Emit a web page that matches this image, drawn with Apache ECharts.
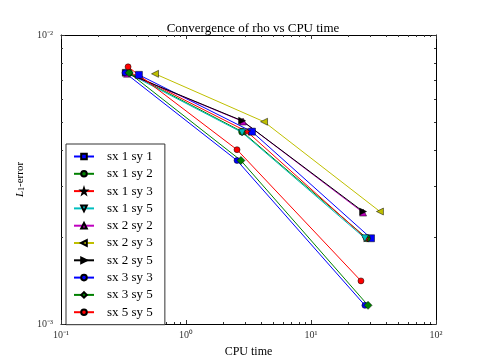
<!DOCTYPE html>
<html>
<head>
<meta charset="utf-8">
<script src="https://cdn.jsdelivr.net/npm/echarts@6/dist/echarts.min.js"></script>
<style>
  html, body { margin: 0; padding: 0; background: #fff; }
  #chart { width: 485px; height: 363px; }
</style>
</head>
<body>
<div id="chart"></div>
<script>
// points are [cpu time, L1 error]
const sx1sy1 = [[0.42, 0.00728], [3.37, 0.00463], [30.2, 0.00198]];
const sx1sy2 = [[0.35, 0.0074], [2.81, 0.00463], [28.0, 0.00198]];
const sx1sy3 = [[0.34, 0.0075], [3.08, 0.00463], [27.5, 0.00198]];
const sx1sy5 = [[0.337, 0.0074], [2.81, 0.0046], [27.0, 0.00198]];
const sx2sy2 = [[0.337, 0.00735], [2.86, 0.00502], [26.1, 0.00243]];
const sx2sy3 = [[0.565, 0.00734], [4.21, 0.00501], [35.6, 0.00245]];
const sx2sy5 = [[0.33, 0.0074], [2.81, 0.00505], [26.1, 0.00245]];
const sx3sy3 = [[0.325, 0.0074], [2.56, 0.00368], [27.0, 0.00116]];
const sx3sy5 = [[0.35, 0.0074], [2.75, 0.00368], [28.6, 0.00116]];
const sx5sy5 = [[0.344, 0.00776], [2.56, 0.00401], [25.1, 0.00141]];

const xMajor = [0.1, 1, 10, 100];
const xMinor = [0.2, 0.3, 0.4, 0.5, 0.6, 0.7, 0.8, 0.9,
  2, 3, 4, 5, 6, 7, 8, 9, 20, 30, 40, 50, 60, 70, 80, 90];
const yMajor = [0.001, 0.01];
const yMinor = [0.002, 0.003, 0.004, 0.005, 0.006, 0.007, 0.008, 0.009];

const font = "Liberation Serif";
const star = "path://M0,-10L2.35,-3.24L9.51,-3.09L3.8,1.24L5.88,8.09L0,4L-5.88,8.09L-3.8,1.24L-9.51,-3.09L-2.35,-3.24Z";

const supMap = { "-": "\u207b", "0": "\u2070", "1": "\u00b9", "2": "\u00b2", "3": "\u00b3" };
function pow10Label(v) {
  const e = String(Math.round(Math.log10(v)));
  return "10" + e.split("").map(c => supMap[c] || c).join("");
}

function mkSeries(name, data, color, symbol, size, rotate) {
  return {
    name: name,
    type: "line",
    data: data,
    symbol: symbol,
    symbolSize: size,
    symbolRotate: rotate || 0,
    showSymbol: true,
    lineStyle: { color: color, width: 1 },
    itemStyle: { color: color, borderColor: "#000", borderWidth: 0.5 },
    emphasis: { disabled: true },
    animation: false
  };
}

// extra log axes only carry ticks (top/right side, and minor ticks)
function tickAxis(kind, pos, values, len, min, max) {
  return {
    type: "log",
    logBase: 10,
    position: pos,
    min: min,
    max: max,
    axisLine: { show: kind === "major", lineStyle: { color: "#000", width: 1 } },
    axisTick: { show: true, inside: true, length: len, customValues: values,
      lineStyle: { color: "#333", width: 1 } },
    axisLabel: { show: false },
    splitLine: { show: false }
  };
}

const chart = echarts.init(document.getElementById("chart"));
chart.setOption({
  backgroundColor: "#fff",
  title: {
    text: "Convergence of rho vs CPU time",
    left: 248,
    textAlign: "center",
    top: 17,
    textStyle: { fontFamily: font, fontSize: 13, fontWeight: "normal", color: "#000" }
  },
  grid: { left: 61, right: 49, top: 35, bottom: 38 },
  legend: {
    orient: "vertical",
    left: 66,
    top: 144,
    itemWidth: 20,
    itemHeight: 7,
    itemGap: 4.3,
    padding: [6, 12, 6, 7],
    borderColor: "#333",
    borderWidth: 1,
    backgroundColor: "#fff",
    textStyle: { fontFamily: font, fontSize: 13, color: "#000", padding: [0, 0, 0, 8] }
  },
  xAxis: [
    {
      type: "log",
      logBase: 10,
      min: 0.1,
      max: 100,
      name: "CPU time",
      nameLocation: "middle",
      nameGap: 22,
      nameTextStyle: { fontFamily: font, fontSize: 12, color: "#000" },
      axisLine: { lineStyle: { color: "#000", width: 1 } },
      axisTick: { inside: true, length: 4, customValues: xMajor, lineStyle: { color: "#333" } },
      axisLabel: { customValues: xMajor, formatter: pow10Label, margin: 6,
        fontFamily: font, fontSize: 10, color: "#333" },
      splitLine: { show: false }
    },
    tickAxis("minor", "bottom", xMinor, 2, 0.1, 100),
    tickAxis("major", "top", xMajor, 4, 0.1, 100),
    tickAxis("minor", "top", xMinor, 2, 0.1, 100)
  ],
  yAxis: [
    {
      type: "log",
      logBase: 10,
      min: 0.001,
      max: 0.01,
      name: "{i|L}{s|1}-error",
      nameLocation: "middle",
      nameGap: 30,
      nameTextStyle: {
        fontFamily: font, fontSize: 11, color: "#000",
        rich: {
          i: { fontFamily: font, fontSize: 11, fontStyle: "italic" },
          s: { fontFamily: font, fontSize: 8, verticalAlign: "bottom", padding: [4, 0, 0, 0] }
        }
      },
      axisLine: { lineStyle: { color: "#000", width: 1 } },
      axisTick: { inside: true, length: 4, customValues: yMajor, lineStyle: { color: "#333" } },
      axisLabel: { customValues: yMajor, formatter: pow10Label, margin: 8,
        fontFamily: font, fontSize: 10, color: "#333" },
      splitLine: { show: false }
    },
    tickAxis("minor", "left", yMinor, 2, 0.001, 0.01),
    tickAxis("major", "right", yMajor, 4, 0.001, 0.01),
    tickAxis("minor", "right", yMinor, 2, 0.001, 0.01)
  ],
  series: [
    mkSeries("sx 1 sy 1", sx1sy1, "#0000ff", "rect", 7),
    mkSeries("sx 1 sy 2", sx1sy2, "#008000", "circle", 7),
    mkSeries("sx 1 sy 3", sx1sy3, "#ff0000", star, 7),
    mkSeries("sx 1 sy 5", sx1sy5, "#00bfbf", "triangle", 7, 180),
    mkSeries("sx 2 sy 2", sx2sy2, "#bf00bf", "triangle", 7),
    mkSeries("sx 2 sy 3", sx2sy3, "#bfbf00", "triangle", 7, 90),
    mkSeries("sx 2 sy 5", sx2sy5, "#000000", "triangle", 7, -90),
    mkSeries("sx 3 sy 3", sx3sy3, "#0000ff", "circle", 6),
    mkSeries("sx 3 sy 5", sx3sy5, "#008000", "diamond", 8),
    mkSeries("sx 5 sy 5", sx5sy5, "#ff0000", "circle", 6)
  ]
});
</script>
</body>
</html>
